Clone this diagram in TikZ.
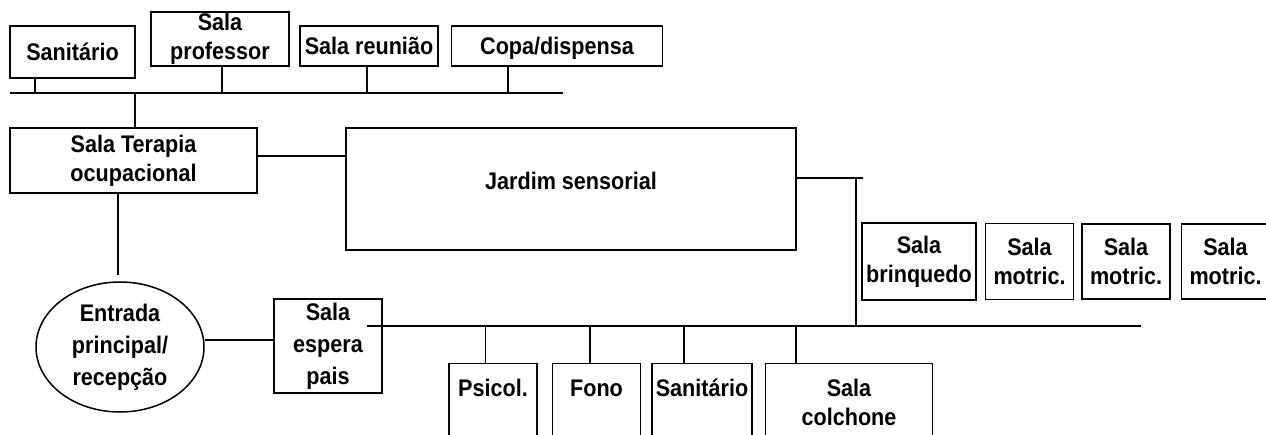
\documentclass[tikz,border=0pt]{standalone}
\usepackage{fontspec}
\setmainfont[FakeStretch=0.9]{Liberation Sans}
\usepackage{tikz}
\usetikzlibrary{shapes,positioning,calc}

\begin{document}
\begin{tikzpicture}[x=1pt, y=-1pt, line width=1.5pt,
    room/.style={rectangle, draw, inner sep=0pt, align=center, font=\bfseries\fontsize{24}{29}\selectfont},
    tall/.style={room, font=\bfseries\fontsize{24}{32}\selectfont},
    lower/.style={room, anchor=north, text height=33pt, text depth=100pt}]
    \clip (0,0) rectangle (1266,435);

    \node (sanit1) [room, minimum width=125, minimum height=52] at (72.5,52) {Sanitário};
    \node (prof) [room, minimum width=138, minimum height=54] at (220,39) {Sala\\professor};
    \node (reun) [room, minimum width=138, minimum height=40] at (369,46) {Sala reunião};
    \node (copa) [room, minimum width=211, minimum height=40, text depth=0pt] at (557,46) {Copa/dispensa};
    \node (terapia) [room, minimum width=247, minimum height=65] at (133.5,160.5) {Sala Terapia\\ocupacional};
    \node (jardim) [room, minimum width=450, minimum height=122, text height=17pt, text depth=15pt] at (571,189) {Jardim sensorial};
    \node (entrada) [tall, ellipse, minimum width=168, minimum height=130] at (120,347) {Entrada\\principal/\\recepção};
    \node (espera) [tall, minimum width=108, minimum height=94] at (328,346) {Sala\\espera\\pais};

    \node (brinq) [room, minimum width=114, minimum height=77] at (919,261.5) {Sala\\brinquedo};
    \node (motric1) [room, right=8pt of brinq, minimum width=88, minimum height=76] {Sala\\motric.};
    \node (motric2) [room, right=7pt of motric1, minimum width=88, minimum height=75] {Sala\\motric.};
    \node (motric3) [room, right=10pt of motric2, minimum width=88, minimum height=75] {Sala\\motric.};

    \node (psicol) [lower, minimum width=88] at (493,363) {Psicol.};
    \node (fono) [lower, right=14pt of psicol, minimum width=88] {Fono};
    \node (sanit2) [lower, right=10pt of fono, minimum width=100] {Sanitário};
    \node (colch) [lower, right=12pt of sanit2, minimum width=167, text height=62pt, text depth=71pt] {Sala\\colchone};

    \coordinate (busL) at (10,93);
    \coordinate (busR) at (563,93);
    \draw (busL) -- (busR);
    \foreach \n/\x in {sanit1/35, prof/222, reun/367, copa/508} {
        \coordinate (s) at (\x,93);
        \draw (s) -- (s |- \n.south);
    }
    \coordinate (tb) at (135,93);
    \draw (tb) -- (tb |- terapia.north);
    \coordinate (tj) at (0,156);
    \draw (terapia.east |- tj) -- (jardim.west |- tj);
    \coordinate (te) at (118,275);
    \draw (te |- terapia.south) -- (te);
    \coordinate (ew) at (0,340);
    \draw (entrada.east |- ew) -- (espera.west |- ew);

    \coordinate (lbL) at (367,326);
    \coordinate (lbR) at (1141,326);
    \draw (lbL) -- (lbR);
    \foreach \n/\x in {psicol/485.5, fono/590, sanit2/684, colch/796} {
        \coordinate (s) at (\x,326);
        \draw (s) -- (s |- \n.north);
    }
    \coordinate (jr) at (863,178);
    \coordinate (jv) at (856,178);
    \draw (jardim.east |- jr) -- (jr);
    \draw (jv) -- (jv |- lbR);
\end{tikzpicture}
\end{document}
